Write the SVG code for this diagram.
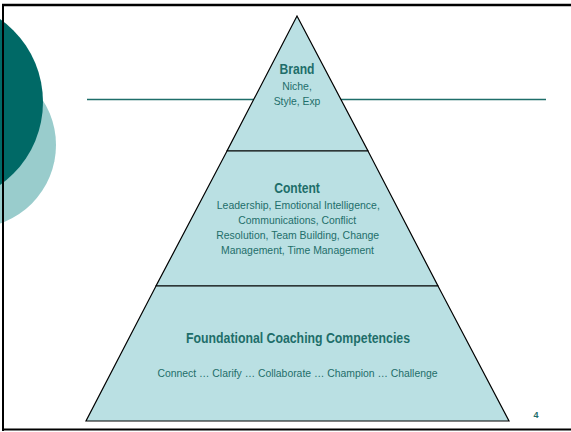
<svg xmlns="http://www.w3.org/2000/svg" width="571" height="432" viewBox="0 0 571 432">
<style>
.layer{fill:#BAE0E3;stroke:#000;stroke-width:1.2;stroke-linejoin:miter}
.t{font-family:"Liberation Sans",Arial,sans-serif;fill:#1E6E6A;text-anchor:middle}
.h{font-weight:bold;font-size:14px}
.b{font-size:11.5px}
.frame{stroke:#000;fill:none}
</style>
<rect width="571" height="432" fill="#fff"/>
<g id="decor">
<circle cx="-27" cy="145" r="83" fill="#99CCCC"/>
<circle cx="-58.6" cy="102" r="101.6" fill="#006966"/>
<line x1="87" y1="99.5" x2="546" y2="99.5" stroke="#1E6E6A" stroke-width="1.3"/>
</g>
<g id="frame">
<line class="frame" x1="2" y1="5" x2="571" y2="5" stroke-width="2.6"/>
<line class="frame" x1="3" y1="4" x2="3" y2="431" stroke-width="2"/>
<line class="frame" x1="2" y1="429.5" x2="571" y2="429.5" stroke-width="2"/>
</g>
<g id="connectors"></g>
<g id="brand">
<polygon class="layer" points="297,16 368,151 227,151"/>
<text class="t h" x="297" y="74" textLength="35" lengthAdjust="spacingAndGlyphs">Brand</text>
<text class="t b" x="297" y="90" textLength="29.6" lengthAdjust="spacingAndGlyphs">Niche,</text>
<text class="t b" x="297" y="105" textLength="46.7" lengthAdjust="spacingAndGlyphs">Style, Exp</text>
</g>
<g id="content">
<polygon class="layer" points="227,151 368,151 438,286 156,286"/>
<text class="t h" x="297" y="193.3" textLength="45.7" lengthAdjust="spacingAndGlyphs">Content</text>
<text class="t b" x="298.3" y="209.3" textLength="163" lengthAdjust="spacingAndGlyphs">Leadership, Emotional Intelligence,</text>
<text class="t b" x="297.2" y="224.3" textLength="117.7" lengthAdjust="spacingAndGlyphs">Communications, Conflict</text>
<text class="t b" x="297.7" y="239.3" textLength="163" lengthAdjust="spacingAndGlyphs">Resolution, Team Building, Change</text>
<text class="t b" x="297.5" y="254.3" textLength="153" lengthAdjust="spacingAndGlyphs">Management, Time Management</text>
</g>
<g id="foundation">
<polygon class="layer" points="156,286 438,286 509,421 86,421"/>
<text class="t h" x="298" y="343.3" textLength="224" lengthAdjust="spacingAndGlyphs">Foundational Coaching Competencies</text>
<text class="t b" x="297.5" y="377" textLength="280" lengthAdjust="spacingAndGlyphs">Connect … Clarify … Collaborate … Champion … Challenge</text>
</g>
<g id="page">
<text class="t" x="536" y="418" font-size="9" font-weight="bold" fill="#3F8A86">4</text>
</g>
</svg>
